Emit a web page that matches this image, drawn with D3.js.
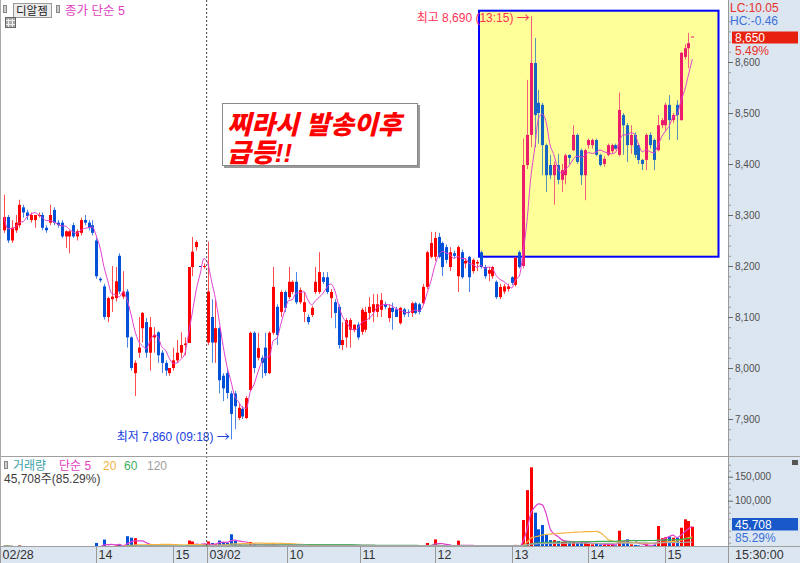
<!DOCTYPE html>
<html><head><meta charset="utf-8">
<script src="https://cdn.jsdelivr.net/npm/d3@7"></script>
<style>body{margin:0;background:#fff;} svg{display:block;font-family:"Liberation Sans","Noto Sans CJK KR",sans-serif;}</style>
</head><body><svg id="c" width="800" height="563"></svg>
<script>
// ---- data (3-minute candles, 02/28 12:48 ... 03/02 15:30) ----
const openP = [
8270,8296,8250,8270,8280,8315,8305,8290,8290,8300,
8300,8275,8285,8310,8285,8285,8258,8258,8280,8258,
8265,8290,8285,8280,8250,8175,8160,8100,8135,8137,
8220,8140,8150,8060,7990,8030,8078,8090,8030,8060,
8070,8030,8010,7990,8000,8015,8030,8045,8049,8198,
8237,8200,8200,
8050,8100,8050,8078,7985,7990,7950,
7950,7902,7920,7902,7957,8069,8020,8020,8040,7990,
8069,8120,8110,8149,8139,8149,8169,8129,8110,8100,
8104,8149,8149,8178,8178,8137,8129,8120,8045,8060,
8075,8075,8085,8071,8075,8108,8110,8110,8114,8125,
8098,8118,8115,8088,8115,8110,8108,8127,8125,8127,
8159,8218,8218,8257,8245,8237,8198,8225,8180,8227,
8205,8218,8190,8205,8227,8198,8185,8180,8169,8139,
8150,8155,8178,8163,8227,8200,8398,8457,8598,8520,
8516,8437,8398,8378,8398,8369,8378,8418,8427,8457,
8427,8378,8437,8437,8447,8418,8400,8418,8425,8437,
8418,8496,8476,8437,8457,8437,8408,8408,8457,8447,
8427,8476,8476,8516,8486,8516,8486,8610,8627,8650];
const highP = [
8340,8300,8290,8300,8330,8320,8310,8305,8300,8305,
8305,8280,8320,8315,8290,8290,8270,8270,8285,8272,
8295,8300,8290,8290,8255,8178,8165,8140,8200,8198,
8225,8190,8155,8062,8015,8100,8110,8098,8100,8080,
8072,8035,8015,8000,8040,8055,8070,8060,8198,8257,
8250,8200,8205,
8248,8135,8135,8080,7990,8000,7955,
7955,7930,7925,7945,8071,8072,8069,8025,8069,8072,
8198,8125,8152,8152,8198,8172,8188,8158,8149,8105,
8122,8198,8227,8188,8188,8155,8135,8125,8090,8098,
8098,8085,8090,8118,8120,8139,8145,8145,8147,8130,
8125,8128,8120,8120,8118,8115,8130,8130,8128,8165,
8230,8267,8267,8265,8248,8242,8237,8230,8240,8232,
8215,8220,8215,8212,8230,8202,8198,8200,8172,8165,
8165,8165,8180,8218,8230,8450,8565,8690,8647,8545,
8520,8440,8418,8405,8420,8400,8420,8418,8476,8460,
8430,8430,8450,8450,8450,8420,8415,8440,8440,8440,
8540,8500,8480,8476,8462,8440,8410,8460,8462,8450,
8496,8490,8520,8535,8500,8525,8620,8635,8657,8650];
const lowP = [
8265,8245,8245,8265,8275,8295,8290,8285,8275,8295,
8270,8265,8280,8280,8275,8255,8235,8225,8255,8250,
8260,8280,8270,8260,8175,8168,8095,8090,8110,8130,
8145,8135,8040,7995,7945,8020,8050,8020,7995,8030,
8010,7990,7985,7985,7995,8010,8020,8025,8049,8180,
8230,8200,8195,
8045,8010,8010,7950,7935,7940,7860,
7880,7898,7900,7900,7955,7990,8015,7980,7985,7988,
8065,8045,8100,8110,8135,8145,8125,8125,8090,8085,
8100,8145,8145,8165,8145,8098,8078,8038,8035,8040,
8040,8070,8055,8065,8070,8095,8090,8100,8100,8115,
8090,8075,8100,8085,8100,8100,8100,8105,8105,8125,
8155,8215,8210,8215,8180,8205,8190,8215,8149,8175,
8195,8149,8185,8190,8195,8175,8170,8175,8135,8135,
8145,8150,8163,8160,8195,8195,8390,8433,8433,8440,
8378,8345,8370,8320,8360,8345,8360,8400,8425,8400,
8359,8329,8430,8430,8415,8395,8395,8415,8420,8428,
8415,8418,8404,8420,8412,8400,8388,8388,8430,8388,
8425,8470,8465,8447,8480,8447,8485,8605,8588,8650];
const closeP = [
8296,8250,8275,8285,8320,8305,8298,8300,8300,8300,
8275,8270,8300,8285,8280,8258,8268,8268,8258,8268,
8290,8285,8275,8265,8180,8172,8100,8137,8140,8170,
8150,8150,8060,8000,8010,8040,8108,8030,8080,8065,
8025,8010,7995,8000,8015,8030,8045,8048,8198,8228,
8247,8200,8200,
8150,8050,8078,7976,7960,7951,7910,
7925,7922,7905,7941,8069,8000,8039,8010,7990,8069,
8159,8065,8149,8118,8169,8169,8129,8153,8129,8090,
8118,8169,8188,8169,8149,8149,8108,8045,8055,8094,
8094,8085,8060,8114,8110,8120,8125,8125,8133,8120,
8118,8110,8100,8118,8105,8108,8127,8108,8110,8159,
8227,8245,8255,8218,8198,8212,8227,8220,8237,8178,
8210,8178,8212,8208,8198,8180,8192,8198,8139,8159,
8160,8160,8167,8216,8198,8398,8457,8598,8496,8500,
8437,8378,8378,8398,8369,8388,8417,8412,8457,8404,
8378,8427,8447,8447,8418,8398,8410,8437,8437,8430,
8506,8476,8437,8457,8418,8408,8400,8457,8437,8408,
8476,8486,8516,8486,8496,8496,8618,8627,8637,8650];
const volume = [
6000,5000,3000,3000,7000,3000,2000,2500,3000,1500,
3000,2000,4000,3000,2000,3000,2500,3000,2000,2500,
3000,2000,1500,2500,12000,3000,19000,6000,5000,7000,
8000,4000,26000,23000,22000,6000,5000,6000,7000,4000,
5000,6000,4000,3000,4000,3000,4000,3000,17000,15000,
8000,1000,9000,
15000,12000,10000,17000,14000,12000,30000,
16000,9000,7000,8000,14000,9000,6000,5000,7000,9000,
12000,7000,6000,5000,8000,5000,6000,4000,5000,3000,
3000,6000,8000,4000,5000,4000,5000,7000,4000,5000,
4000,2000,3000,5000,4000,3000,3000,3000,4000,2000,
3000,2000,2000,3000,2000,2000,3000,2000,2000,6000,
12000,8000,19400,7000,6000,4000,5000,3000,16700,6000,
3000,5000,4000,2000,4000,3000,2000,3000,5000,4000,
3000,2000,3000,8000,6000,59800,122000,169500,75000,40400,
49400,28500,18000,18000,16000,14000,15000,13000,14000,12000,
12000,14000,10000,9000,10000,9000,8000,9000,8000,7000,
37500,12000,19400,9000,8000,7000,6000,9000,6000,8000,
47300,22000,23700,25000,23000,23000,43700,61200,57700,45708];

const priceTicks = [7900,8000,8100,8200,8300,8400,8500,8600];
const volTicks = [100000,150000];
const timeTickIdx = [-1,24,44,52.7,73.5,92.7,112,132,152,172];
const timeTickLabels = ["02/28","14","15","03/02","10","11","12","13","14","15"];
const dayBreakIdx = 52.7;
const hiIdx = 137, loIdx = 59;
const hiLabel = "최고 8,690 (13:15) ";
const loLabel = "최저 7,860 (09:18) ";
const highlightFrom = 135;

// ---- drawing ----
const svg = d3.select("#c");
const W = 800, H = 563, plotR = 728, priceBottom = 456.5, volBottom = 546.5;
const FONT = '"Liberation Sans","Noto Sans CJK KR",sans-serif';
const FONTK = '"Noto Sans CJK KR","Noto Sans",sans-serif';
const N = closeP.length;
const x = d3.scaleLinear().domain([0, 179]).range([4, 692.3]);
const yP = d3.scaleLinear().domain([7900, 8600]).range([419, 62]);
const yV = d3.scaleLinear().domain([0, 150000]).range([548.7, 476.7]);

svg.append("rect").attr("width", W).attr("height", H).attr("fill", "#fff");
svg.append("rect").attr("x", plotR).attr("y", 0).attr("width", W - plotR).attr("height", H).attr("fill", "#dce6f1");
svg.append("rect").attr("x", 0).attr("y", volBottom).attr("width", W).attr("height", H - volBottom).attr("fill", "#dce6f1");

const defs = svg.append("defs");
defs.append("clipPath").attr("id", "cp").append("rect").attr("x", 0).attr("y", 0).attr("width", plotR).attr("height", priceBottom);
defs.append("clipPath").attr("id", "cv").append("rect").attr("x", 0).attr("y", priceBottom).attr("width", plotR).attr("height", volBottom - priceBottom);

// highlight box
const gp = svg.append("g").attr("clip-path", "url(#cp)");
gp.append("rect").attr("x", 479).attr("y", 10.7).attr("width", 239.5).attr("height", 246)
  .attr("fill", "#ffff99").attr("stroke", "#0000ff").attr("stroke-width", 2);

function isUp(i) {
  if (closeP[i] !== openP[i]) return closeP[i] > openP[i];
  return i === 0 || closeP[i] >= closeP[i - 1];
}
function col(i) {
  const up = isUp(i);
  if (i >= highlightFrom) return up ? "#ec1c6c" : "#1664c4";
  return up ? "#ff0000" : "#0050d8";
}
const idx = d3.range(N);
gp.selectAll("line.w").data(idx).join("line")
  .attr("x1", i => Math.round(x(i)) + 0.5).attr("x2", i => Math.round(x(i)) + 0.5)
  .attr("y1", i => yP(highP[i])).attr("y2", i => yP(lowP[i]))
  .attr("stroke", col).attr("stroke-opacity", 0.7).attr("stroke-width", 1);
gp.selectAll("rect.b").data(idx).join("rect")
  .attr("x", i => Math.round(x(i)) - 1).attr("width", 3)
  .attr("y", i => yP(Math.max(openP[i], closeP[i])))
  .attr("height", i => Math.max(1, Math.abs(yP(openP[i]) - yP(closeP[i]))))
  .attr("fill", col);

function sma(arr, n) { return arr.map((d, i) => d3.mean(arr.slice(Math.max(0, i - n + 1), i + 1))); }
const ma5 = sma(closeP, 5);
gp.append("path").datum(idx).attr("fill", "none").attr("stroke", "#e040d0").attr("stroke-width", 1)
  .attr("d", d3.line().x(i => x(i)).y(i => yP(ma5[i])).curve(d3.curveMonotoneX));

// hi/lo labels with arrows
function extremeLabel(i, v, txt, c, dy) {
  const t = gp.append("text").attr("x", x(i) - 1).attr("y", yP(v) + dy).attr("text-anchor", "end")
    .attr("font-size", 12).attr("fill", c).attr("font-family", FONT);
  t.append("tspan").text(txt);
  t.append("tspan").attr("font-family", FONTK).attr("font-size", 13).text("→");
}
extremeLabel(hiIdx, highP[hiIdx], hiLabel, "#ff3355", 6);
extremeLabel(loIdx, lowP[loIdx], loLabel, "#2040e0", 2);

// annotation box
svg.append("rect").attr("x", 224).attr("y", 105).attr("width", 196).attr("height", 63).attr("fill", "#999");
svg.append("rect").attr("x", 222.5).attr("y", 103.5).attr("width", 195).attr("height", 62).attr("fill", "#fff").attr("stroke", "#888");
const ann = svg.append("text").attr("font-family", FONT).attr("font-weight", "900").attr("font-style", "italic")
  .attr("font-size", 26).attr("fill", "#ff0000");
ann.append("tspan").attr("x", 227).attr("y", 133.5).text("찌라시 발송이후");
ann.append("tspan").attr("x", 227).attr("y", 161.5).text("급등!!");

// volume
const gv = svg.append("g").attr("clip-path", "url(#cv)");
gv.selectAll("rect").data(idx).join("rect")
  .attr("x", i => Math.round(x(i)) - 1).attr("width", 3)
  .attr("y", i => yV(volume[i])).attr("height", i => Math.max(1, yV(0) - yV(volume[i])))
  .attr("fill", i => isUp(i) ? "#ff0000" : "#0050d8");
[[5, "#e040d0"], [20, "#f5b342"], [60, "#3cb050"], [120, "#a8a8a8"]].forEach(([n, c]) => {
  const m = sma(volume, n);
  gv.append("path").datum(idx).attr("fill", "none").attr("stroke", c).attr("stroke-width", 1.2)
    .attr("d", d3.line().x(i => x(i)).y(i => yV(m[i])).curve(d3.curveMonotoneX));
});

// separators
svg.append("line").attr("x1", x(dayBreakIdx)).attr("x2", x(dayBreakIdx)).attr("y1", 0).attr("y2", volBottom)
  .attr("stroke", "#444").attr("stroke-dasharray", "2,2");
svg.append("line").attr("x1", 0).attr("x2", W).attr("y1", priceBottom).attr("y2", priceBottom).attr("stroke", "#a0a0a0");
svg.append("line").attr("x1", 0).attr("x2", W).attr("y1", volBottom).attr("y2", volBottom).attr("stroke", "#a0a0a0");
svg.append("line").attr("x1", plotR + 0.5).attr("x2", plotR + 0.5).attr("y1", 0).attr("y2", H).attr("stroke", "#999");
svg.append("line").attr("x1", 0.5).attr("x2", 0.5).attr("y1", 0).attr("y2", H).attr("stroke", "#aaa");

// price axis
const minorP = d3.range(7860, 8720, 20).filter(v => v % 100 !== 0);
const gpm = svg.append("g").attr("transform", `translate(${plotR},0)`)
  .call(d3.axisRight(yP).tickValues(minorP).tickSize(3).tickFormat(""));
gpm.select(".domain").remove(); gpm.selectAll("line").attr("stroke", "#999");
const gpa = svg.append("g").attr("transform", `translate(${plotR},0)`)
  .attr("font-family", FONT).attr("font-size", 12)
  .call(d3.axisRight(yP).tickValues(priceTicks).tickSize(5).tickPadding(2).tickFormat(d3.format(",")));
gpa.select(".domain").remove(); gpa.selectAll("line").attr("stroke", "#666"); gpa.selectAll("text").attr("fill", "#505050");

// volume axis
const minorV = d3.range(12500, 180000, 12500).filter(v => v % 50000 !== 0);
const gvm = svg.append("g").attr("transform", `translate(${plotR},0)`)
  .call(d3.axisRight(yV).tickValues(minorV).tickSize(3).tickFormat(""));
gvm.select(".domain").remove(); gvm.selectAll("line").attr("stroke", "#999");
gvm.selectAll(".tick").filter(d => yV(d) < priceBottom + 2 || yV(d) > volBottom).remove();
const gva = svg.append("g").attr("transform", `translate(${plotR},0)`)
  .attr("font-family", FONT).attr("font-size", 12)
  .call(d3.axisRight(yV).tickValues(volTicks).tickSize(5).tickPadding(2).tickFormat(d3.format(",")));
gva.select(".domain").remove(); gva.selectAll("line").attr("stroke", "#666"); gva.selectAll("text").attr("fill", "#505050");

// time axis
const gt = svg.append("g").attr("font-family", FONT).attr("font-size", 12.5);
timeTickIdx.forEach((t, k) => {
  const xx = Math.max(0.5, Math.round(x(t)) + 0.5);
  gt.append("line").attr("x1", xx).attr("x2", xx).attr("y1", volBottom).attr("y2", H).attr("stroke", "#999");
  gt.append("text").attr("x", xx + 2).attr("y", 559).attr("fill", "#333").text(timeTickLabels[k]);
});
gt.append("text").attr("x", 735).attr("y", 559).attr("fill", "#333").text("15:30:00");

// right axis badges
const rt = svg.append("g").attr("font-family", FONT).attr("font-size", 12);
rt.append("text").attr("x", 730).attr("y", 12).attr("fill", "#e8302a").text("LC:10.05");
rt.append("text").attr("x", 730).attr("y", 25).attr("fill", "#3a70d8").text("HC:-0.46");
rt.append("rect").attr("x", 732).attr("y", 31.5).attr("width", 66).attr("height", 12).attr("fill", "#e8200e");
rt.append("text").attr("x", 735).attr("y", 42).attr("fill", "#fff").text(d3.format(",")(closeP[N - 1]));
rt.append("text").attr("x", 735).attr("y", 55).attr("fill", "#e8302a").text("5.49%");
rt.append("rect").attr("x", 732).attr("y", 518).attr("width", 66).attr("height", 12.5).attr("fill", "#1858c8");
rt.append("text").attr("x", 735).attr("y", 528.5).attr("fill", "#fff").text(d3.format(",")(volume[N - 1]));
rt.append("text").attr("x", 735).attr("y", 542).attr("fill", "#3a70d8").text("85.29%");
rt.append("rect").attr("x", 792).attr("y", 460).attr("width", 6).attr("height", 5).attr("fill", "#555");

// header
const hd = svg.append("g").attr("font-family", FONT);
hd.append("rect").attr("x", 3.5).attr("y", 5.5).attr("width", 3).attr("height", 7).attr("fill", "#ccc").attr("stroke", "#888");
hd.append("rect").attr("x", 13.5).attr("y", 3.5).attr("width", 38).attr("height", 14).attr("fill", "#ececec").attr("stroke", "#9a9a9a");
hd.append("text").attr("x", 16).attr("y", 15).attr("font-size", 11.5).attr("fill", "#222").text("디알젬");
hd.append("rect").attr("x", 56.5).attr("y", 5.5).attr("width", 3).attr("height", 7).attr("fill", "#ccc").attr("stroke", "#888");
hd.append("text").attr("x", 65).attr("y", 15).attr("font-size", 12.5).attr("fill", "#e040c0").text("종가 단순 5");
hd.append("rect").attr("x", 5.5).attr("y", 17.5).attr("width", 10).attr("height", 10).attr("fill", "#aaa").attr("stroke", "#666");
[8.5, 12.5].forEach(v => {
  hd.append("line").attr("x1", v).attr("x2", v).attr("y1", 19).attr("y2", 27).attr("stroke", "#eee");
  hd.append("line").attr("x1", 6).attr("x2", 15).attr("y1", v + 12).attr("y2", v + 12).attr("stroke", "#eee");
});

// volume legend
const lg = svg.append("g").attr("font-family", FONT).attr("font-size", 12);
lg.append("rect").attr("x", 4.5).attr("y", 461.5).attr("width", 3).attr("height", 7).attr("fill", "#ccc").attr("stroke", "#888");
[["거래량", 13, "#3aa0a8"], ["단순 5", 59, "#e040c0"], ["20", 103, "#f0b040"], ["60", 124, "#40b060"], ["120", 147, "#a0a0a0"]]
  .forEach(([t, xx, c]) => lg.append("text").attr("x", xx).attr("y", 469.5).attr("fill", c).text(t));
lg.append("text").attr("x", 4).attr("y", 483).attr("fill", "#404040")
  .text(d3.format(",")(volume[N - 1]) + "주(85.29%)");
</script>
</body></html>
